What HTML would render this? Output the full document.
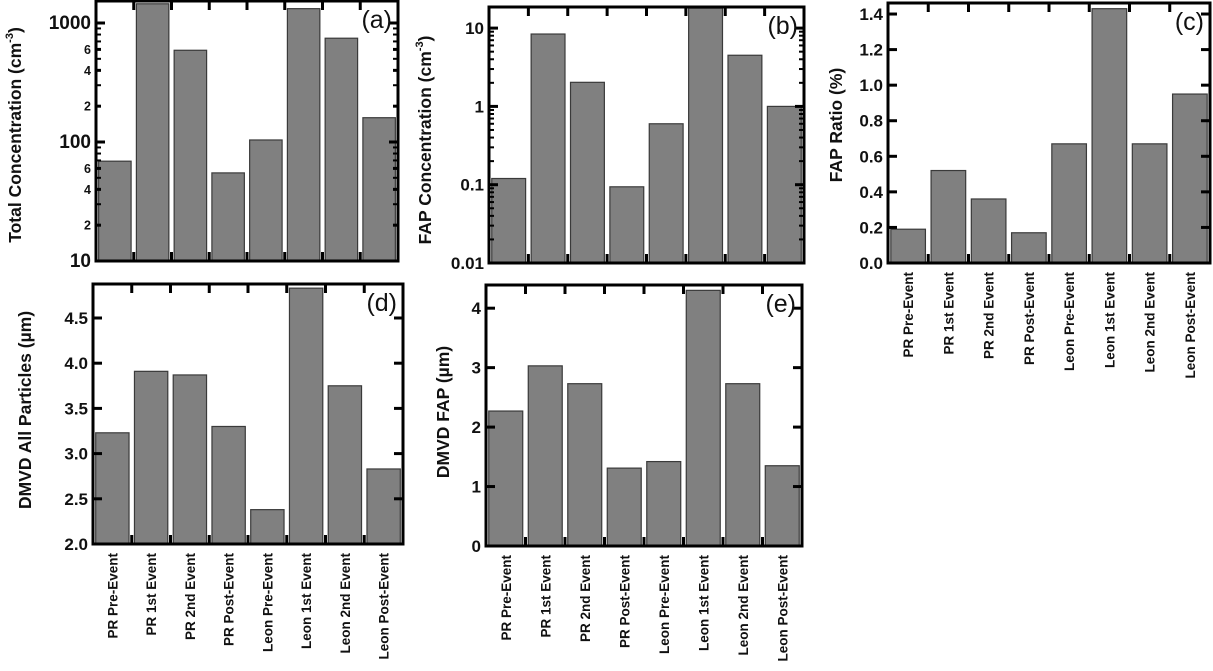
<!DOCTYPE html>
<html><head><meta charset="utf-8"><style>
html,body{margin:0;padding:0;background:#fff;}
svg{display:block;font-family:"Liberation Sans",Arial,sans-serif;}
</style></head><body>
<svg id="fig" width="1213" height="671" viewBox="0 0 1213 671" xmlns="http://www.w3.org/2000/svg"></svg>
<script>
const categories = ["PR Pre-Event","PR 1st Event","PR 2nd Event","PR Post-Event","Leon Pre-Event","Leon 1st Event","Leon 2nd Event","Leon Post-Event"];
const totalConc = [69, 1450, 590, 55, 104, 1320, 745, 160];
const fapConc = [0.12, 8.4, 2.03, 0.094, 0.6, 18, 4.5, 1.0];
const fapRatio = [0.19, 0.52, 0.36, 0.17, 0.67, 1.43, 0.67, 0.95];
const dmvdAll = [3.23, 3.91, 3.87, 3.30, 2.38, 4.83, 3.75, 2.83];
const dmvdFap = [2.27, 3.03, 2.73, 1.31, 1.42, 4.30, 2.73, 1.35];
const ticksA = [[1000,"1000",1],[600,"6",0],[400,"4",0],[200,"2",0],[100,"100",1],[60,"6",0],[40,"4",0],[20,"2",0],[10,"10",1]];
const ticksB = [[10,"10"],[1,"1"],[0.1,"0.1"],[0.01,"0.01"]];
const ticksC = [[0,"0.0"],[0.2,"0.2"],[0.4,"0.4"],[0.6,"0.6"],[0.8,"0.8"],[1.0,"1.0"],[1.2,"1.2"],[1.4,"1.4"]];
const ticksD = [[2.0,"2.0"],[2.5,"2.5"],[3.0,"3.0"],[3.5,"3.5"],[4.0,"4.0"],[4.5,"4.5"]];
const ticksE = [[0,"0"],[1,"1"],[2,"2"],[3,"3"],[4,"4"]];

const NS="http://www.w3.org/2000/svg";
const svg=document.getElementById('fig');
function mk(tag,attrs,parent){const e=document.createElementNS(NS,tag);for(const k in attrs)e.setAttribute(k,attrs[k]);(parent||svg).appendChild(e);return e;}

function panel(p){
  const g=mk('g',{});
  
  
  let y;
  if(p.log){const a=Math.log10(p.min),b=Math.log10(p.max);y=v=>p.b-(Math.log10(v)-a)/(b-a)*(p.b-p.t);}
  else{y=v=>p.b-(v-p.min)/(p.max-p.min)*(p.b-p.t);}
  const bw=(p.r-p.l)/categories.length;
  p.vals.forEach((v,i)=>{
    const x0=p.l+i*bw+bw*0.07, w=bw*0.86, yt=y(v);
    const r=mk('rect',{x:x0,y:yt,width:w,height:p.b-yt,fill:'#808080',stroke:'#3a3a3a','stroke-width':1.2},g);
    
    
  });
  for(let i=1;i<categories.length;i++){
    const x=p.l+i*bw;
    mk('line',{x1:x,x2:x,y1:p.t,y2:p.t+9,stroke:'#000','stroke-width':3},g);
    mk('line',{x1:x,x2:x,y1:p.b,y2:p.b-9,stroke:'#000','stroke-width':3},g);
  }
  p.ticks.forEach(tk=>{
    const yy=y(tk[0]); const major=tk.length<3||tk[2];
    const len=major?9:5;
    mk('line',{x1:p.l,x2:p.l+len,y1:yy,y2:yy,stroke:'#000','stroke-width':3},g);
    mk('line',{x1:p.r,x2:p.r-len,y1:yy,y2:yy,stroke:'#000','stroke-width':3},g);
    const t=mk('text',{x:p.l-5,y:yy+(major?6:4.5),'text-anchor':'end','font-weight':'bold','font-size':major?(p.tfs||17):12.5,fill:'#111'},g);
    t.textContent=tk[1];
    
    
  });
  if(p.log){
    let d=Math.pow(10,Math.floor(Math.log10(p.min)));
    for(;d<p.max;d*=10){for(let m=2;m<10;m++){const v=d*m;if(v>p.min&&v<p.max){const yy=y(v);
      mk('line',{x1:p.l,x2:p.l+5,y1:yy,y2:yy,stroke:'#000','stroke-width':2},g);
      mk('line',{x1:p.r,x2:p.r-5,y1:yy,y2:yy,stroke:'#000','stroke-width':2},g);}}}
  }
  const fr=mk('rect',{x:p.l,y:p.t,width:p.r-p.l,height:p.b-p.t,fill:'none',stroke:'#000','stroke-width':3},g);
  
  
  const lt=mk('text',{x:p.r-6,y:p.t+27,'text-anchor':'end','font-size':25,fill:'#111'},g);
  lt.textContent=p.letter;
  
  
  const yl=mk('text',{transform:`translate(${p.yx},${p.yc}) rotate(-90)`,'text-anchor':'middle','font-weight':'bold','font-size':17.5,fill:'#111'},g);
  yl.innerHTML=p.ylabel;
  
  
  if(p.xl){
    categories.forEach((c,i)=>{
      const x=p.l+(i+0.5)*bw;
      const t=mk('text',{transform:`translate(${x+5},${p.b+9}) rotate(-90)`,'text-anchor':'end','font-weight':'bold','font-size':13.5,fill:'#111'},g);
      t.textContent=c;
      
      
    });
  }
}
panel({name:'panel-a-total-concentration',key:'a',l:96,r:398,t:1,b:261,log:true,min:10,max:Math.pow(10,1+260/119),vals:totalConc,ticks:ticksA,letter:'(a)',yx:21,yc:135,ylabel:'Total Concentration (cm<tspan dy="-8" font-size="11">-3</tspan><tspan dy="8">)</tspan>',xl:false,tfs:19});
panel({name:'panel-b-fap-concentration',key:'b',l:489,r:804,t:7,b:263,log:true,min:0.01,max:Math.pow(10,-2+256/78.3),vals:fapConc,ticks:ticksB,letter:'(b)',yx:431,yc:140,ylabel:'FAP Concentration (cm<tspan dy="-8" font-size="11">-3</tspan><tspan dy="8">)</tspan>',xl:false});
panel({name:'panel-c-fap-ratio',key:'c',l:888,r:1210,t:3,b:263,log:false,min:0,max:1.462,vals:fapRatio,ticks:ticksC,letter:'(c)',yx:842,yc:125,ylabel:'FAP Ratio (%)',xl:true});
panel({name:'panel-d-dmvd-all',key:'d',l:93,r:403,t:284,b:544,log:false,min:2.0,max:4.876,vals:dmvdAll,ticks:ticksD,letter:'(d)',yx:31,yc:410,ylabel:'DMVD All Particles (µm)',xl:true});
panel({name:'panel-e-dmvd-fap',key:'e',l:486,r:802,t:285,b:546,log:false,min:0,max:4.39,vals:dmvdFap,ticks:ticksE,letter:'(e)',yx:449,yc:412,ylabel:'DMVD FAP (µm)',xl:true});
</script>
</body></html>
